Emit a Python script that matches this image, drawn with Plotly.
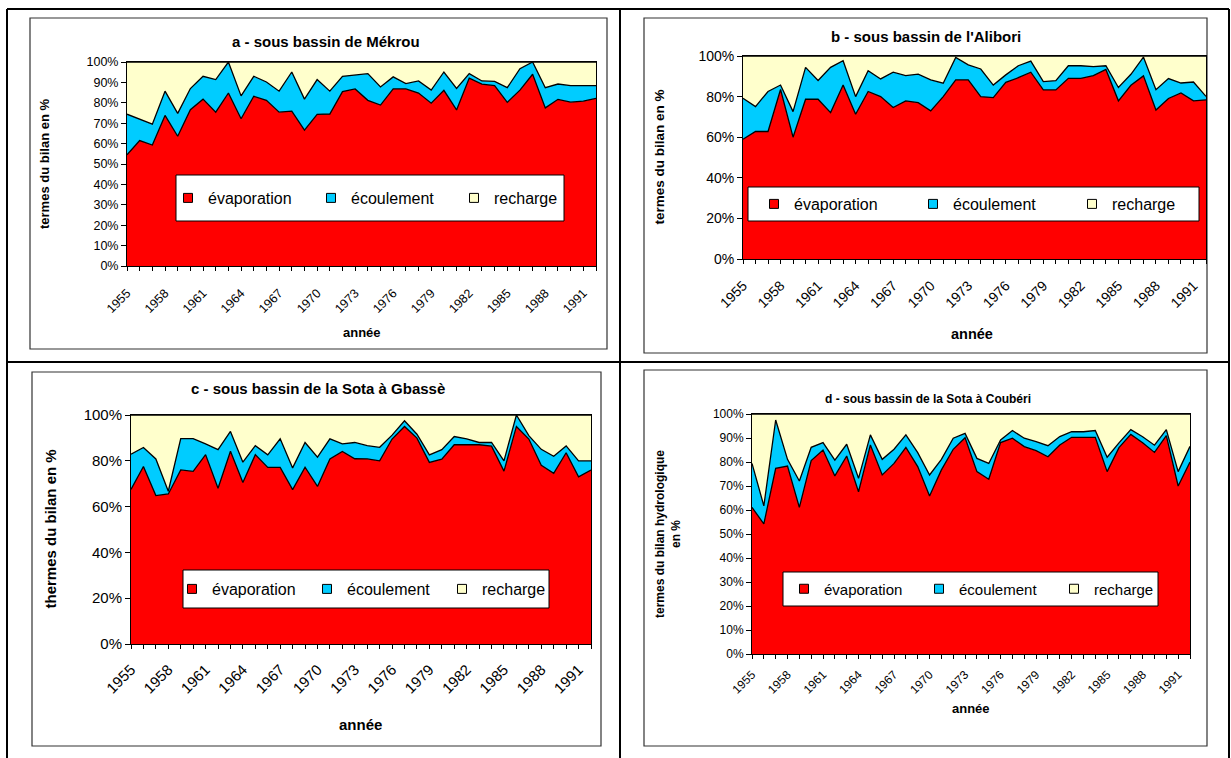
import plotly.graph_objects as go

W, H = 1231, 758
FONT = "Liberation Sans, Arial, sans-serif"

years = list(range(1955, 1993))
year_labels = [str(y) if (y - 1955) % 3 == 0 else "" for y in years]

# a - Mékrou (percent of the annual balance)
evap_a = [54.5, 61.5, 59.3, 73.8, 63.6, 76.6, 81.8, 75.4, 84.8, 72.2, 83.2, 81.2, 75.4, 75.9, 66.6, 74.3, 74.5, 85.5, 86.8,
          81.2, 78.9, 86.8, 86.8, 84.8, 79.8, 86.1, 76.5, 92.1, 89.2, 88.4, 80.2, 86.2, 94.0, 77.5, 81.7, 80.3, 80.8, 82.2]
ecoul_a = [19.9, 10.3, 10.2, 11.9, 11.2, 10.4, 11.2, 16.0, 15.2, 11.2, 9.8, 9.0, 10.3, 19.2, 15.2, 17.1, 11.2, 7.5, 7.0,
           13.1, 8.9, 5.9, 2.6, 5.9, 6.4, 9.0, 10.5, 2.2, 1.5, 2.1, 7.2, 10.5, 6.0, 9.9, 7.5, 8.1, 7.6, 6.2]
rech_a = [25.6, 28.2, 30.5, 14.3, 25.2, 13.0, 7.0, 8.6, 0.0, 16.6, 7.0, 9.8, 14.3, 4.9, 18.2, 8.6, 14.3, 7.0, 6.2,
          5.7, 12.2, 7.3, 10.6, 9.3, 13.8, 4.9, 13.0, 5.7, 9.3, 9.5, 12.6, 3.3, 0.0, 12.6, 10.8, 11.6, 11.6, 11.6]

# b - Alibori
evap_b = [59.0, 62.8, 62.8, 83.5, 60.0, 78.7, 78.7, 72.1, 85.7, 71.3, 82.5, 80.0, 74.6, 77.9, 77.0, 73.0, 80.0, 88.2, 88.2,
          80.0, 79.5, 87.0, 89.3, 92.0, 83.3, 83.3, 89.0, 89.0, 90.3, 93.4, 77.9, 85.6, 90.2, 73.4, 79.1, 81.8, 77.9, 78.4]
ecoul_b = [20.2, 12.3, 19.7, 2.2, 12.6, 15.7, 9.2, 22.3, 12.0, 8.7, 10.3, 8.7, 17.4, 12.4, 14.1, 15.2, 6.6, 11.1, 7.4,
           13.6, 6.2, 3.7, 5.9, 5.5, 4.1, 4.6, 6.2, 6.2, 4.5, 1.8, 6.6, 5.4, 9.3, 10.0, 9.8, 4.9, 9.3, 1.7]
rech_b = [20.8, 24.9, 17.5, 14.3, 27.4, 5.6, 12.1, 5.6, 2.3, 20.0, 7.2, 11.3, 8.0, 9.7, 8.9, 11.8, 13.4, 0.7, 4.4,
          6.4, 14.3, 9.3, 4.8, 2.5, 12.6, 12.1, 4.8, 4.8, 5.2, 4.8, 15.5, 9.0, 0.5, 16.6, 11.1, 13.3, 12.8, 19.9]

# c - Sota à Gbassè
evap_c = [67.5, 77.5, 64.8, 65.5, 76.0, 75.4, 82.7, 68.0, 84.2, 70.5, 82.7, 77.1, 77.1, 67.4, 77.2, 68.8, 80.8, 84.1, 80.9,
          80.8, 80.0, 89.5, 95.0, 89.9, 79.3, 80.7, 87.0, 87.0, 87.0, 86.4, 75.5, 95.0, 89.5, 78.0, 74.5, 83.5, 73.0, 76.0]
ecoul_c = [15.4, 8.3, 16.0, 1.2, 13.7, 14.3, 4.7, 16.9, 8.6, 8.9, 3.9, 5.5, 12.5, 9.5, 10.8, 12.8, 8.8, 3.3, 7.1,
           5.8, 5.9, 1.7, 2.5, 1.7, 3.3, 4.2, 3.6, 2.6, 1.0, 1.6, 4.5, 5.0, 1.5, 7.0, 7.5, 3.0, 7.0, 4.0]
rech_c = [17.1, 14.2, 19.2, 33.3, 10.3, 10.3, 12.6, 15.1, 7.2, 20.6, 13.4, 17.4, 10.4, 23.1, 12.0, 18.4, 10.4, 12.6, 12.0,
          13.4, 14.1, 8.8, 2.5, 8.4, 17.4, 15.1, 9.4, 10.4, 12.0, 12.0, 20.0, 0.0, 9.0, 15.0, 18.0, 13.5, 20.0, 20.0]

# d - Sota à Coubéri
evap_d = [61.1, 54.2, 77.4, 78.3, 61.1, 80.6, 85.0, 74.2, 82.5, 67.6, 87.1, 74.6, 79.4, 86.1, 78.1, 65.8, 76.7, 85.3, 90.1,
          76.0, 72.8, 88.1, 89.9, 86.4, 84.7, 82.2, 87.1, 90.3, 90.3, 90.3, 76.0, 86.0, 91.5, 88.0, 84.0, 91.0, 70.0, 80.0]
ecoul_d = [18.3, 7.5, 20.1, 2.8, 11.0, 5.5, 3.1, 6.6, 4.9, 5.6, 4.2, 6.5, 5.9, 5.2, 5.8, 8.8, 4.4, 4.6, 1.8,
           5.5, 6.6, 1.1, 3.2, 3.5, 3.8, 4.6, 3.5, 2.3, 2.3, 2.8, 6.0, 2.0, 2.0, 2.5, 3.0, 2.5, 6.0, 6.5]
rech_d = [20.6, 38.3, 2.5, 18.9, 27.9, 13.9, 11.9, 19.2, 12.6, 26.8, 8.7, 18.9, 14.7, 8.7, 16.1, 25.4, 18.9, 10.1, 8.1,
          18.5, 20.6, 10.8, 6.9, 10.1, 11.5, 13.2, 9.4, 7.4, 7.4, 6.9, 18.0, 12.0, 6.5, 9.5, 13.0, 6.5, 24.0, 13.5]

series_names = ["évaporation", "écoulement", "recharge"]
series_colors = ["#FF0000", "#00CCFF", "#FFFFCC"]


def fx(px):
    return px / W


def fy(py):
    return 1 - py / H


panels = [
    dict(key="", data=(evap_a, ecoul_a, rech_a), plot=(127, 596, 62, 266), box=(30, 607, 18, 349),
         title="a - sous bassin de Mékrou", title_xy=(326, 41), title_size=15,
         ytitle="termes du bilan en %", ytitle_x=45, ytitle_size=13, dtick=10, tick_size=12.5, standoff=10,
         xtitle_xy=(362, 333), xtitle_size=13, legend_box=(176, 564, 175, 221), legend_size=16,
         legend_x=168, entry=98),
    dict(key="2", data=(evap_b, ecoul_b, rech_b), plot=(743, 1206, 56, 259), box=(644, 1207, 18, 353),
         title="b - sous bassin de l'Alibori", title_xy=(926, 36), title_size=15,
         ytitle="termes du bilan en %", ytitle_x=659, ytitle_size=13.5, dtick=20, tick_size=14, standoff=8,
         xtitle_xy=(972, 334), xtitle_size=14.5, legend_box=(748, 1199, 187, 221), legend_size=16,
         legend_x=754, entry=114),
    dict(key="3", data=(evap_c, ecoul_c, rech_c), plot=(131, 591, 415, 644), box=(32, 601, 372, 746),
         title="c - sous bassin de la Sota à Gbassè", title_xy=(318, 388), title_size=15,
         ytitle="thermes du bilan en %", ytitle_x=50, ytitle_size=15, dtick=20, tick_size=15, standoff=6,
         xtitle_xy=(360, 724), xtitle_size=15, legend_box=(183, 549, 570, 608), legend_size=16,
         legend_x=172, entry=90),
    dict(key="4", data=(evap_d, ecoul_d, rech_d), plot=(752, 1190, 414, 654), box=(644, 1207, 370, 746),
         title="d - sous bassin de la Sota à Coubéri", title_xy=(928, 399), title_size=12,
         ytitle="termes du bilan hydrologique<br>en %", ytitle_x=668, ytitle_size=12, dtick=10, tick_size=12,
         standoff=4, xtitle_xy=(971, 708), xtitle_size=13, legend_box=(783, 1158, 572, 606), legend_size=15,
         legend_x=784, entry=90),
]

fig = go.Figure()
shapes = []
annotations = []
layout = {}

for p in panels:
    k = p["key"]
    xa, ya = "x" + k, "y" + k
    leg = "legend" + k
    l, r, t, b = p["plot"]
    for vals, name, col in zip(p["data"], series_names, series_colors):
        fig.add_trace(go.Scatter(
            x=years, y=vals, name=name, mode="lines", stackgroup="s" + (k or "1"),
            line=dict(color="black", width=1.3), fillcolor=col,
            xaxis=xa, yaxis=ya, showlegend=False, hoverinfo="skip"))
    # legend entries drawn as square swatches
    for name, col in zip(series_names, series_colors):
        fig.add_trace(go.Scatter(
            x=[None], y=[None], name=name, mode="markers",
            marker=dict(symbol="square", size=9, color=col, line=dict(color="black", width=1)),
            xaxis=xa, yaxis=ya, legend=leg, showlegend=True))

    axis_font = dict(family=FONT, size=p["tick_size"], color="black")
    layout["xaxis" + k] = dict(
        domain=[fx(l), fx(r)], anchor=ya, range=[1955, 1992],
        tickmode="array", tickvals=years, ticktext=year_labels, tickangle=-45,
        ticks="outside", ticklen=4, tickcolor="black", tickfont=axis_font,
        ticklabelstandoff=p["standoff"],
        showline=True, linecolor="black", linewidth=1, mirror=True,
        showgrid=False, zeroline=False, automargin=False, fixedrange=True)
    layout["yaxis" + k] = dict(
        domain=[fy(b), fy(t)], anchor=xa, range=[0, 100],
        tickmode="linear", tick0=0, dtick=p["dtick"], ticksuffix="%",
        ticks="outside", ticklen=5, tickcolor="black", tickfont=axis_font,
        showline=True, linecolor="black", linewidth=1, mirror=True,
        showgrid=False, zeroline=False, automargin=False, fixedrange=True)

    lb_l, lb_r, lb_t, lb_b = p["legend_box"]
    layout[leg] = dict(
        x=fx(p["legend_x"]), y=fy((lb_t + lb_b) / 2), xanchor="left", yanchor="middle",
        orientation="h", traceorder="normal", bgcolor="rgba(0,0,0,0)", borderwidth=0,
        font=dict(family=FONT, size=p["legend_size"], color="black"),
        entrywidth=p["entry"], entrywidthmode="pixels", itemclick=False, itemdoubleclick=False)

    # chart frame and legend frame
    bl, br, bt, bb = p["box"]
    shapes.append(dict(type="rect", xref="paper", yref="paper", x0=fx(bl), x1=fx(br), y0=fy(bb), y1=fy(bt),
                       line=dict(color="#333333", width=1.2), fillcolor="rgba(0,0,0,0)", layer="below"))
    shapes.append(dict(type="rect", xref="paper", yref="paper", x0=fx(lb_l), x1=fx(lb_r), y0=fy(lb_b), y1=fy(lb_t),
                       line=dict(color="black", width=1), fillcolor="white", layer="above"))

    tx, ty = p["title_xy"]
    annotations.append(dict(text="<b>" + p["title"] + "</b>", x=fx(tx), y=fy(ty), xref="paper", yref="paper",
                            showarrow=False, xanchor="center", yanchor="middle",
                            font=dict(family=FONT, size=p["title_size"], color="black")))
    annotations.append(dict(text="<b>" + p["ytitle"] + "</b>", x=fx(p["ytitle_x"]), y=fy((t + b) / 2),
                            xref="paper", yref="paper", showarrow=False, textangle=-90,
                            xanchor="center", yanchor="middle",
                            font=dict(family=FONT, size=p["ytitle_size"], color="black")))
    ax_, ay_ = p["xtitle_xy"]
    annotations.append(dict(text="<b>année</b>", x=fx(ax_), y=fy(ay_), xref="paper", yref="paper",
                            showarrow=False, xanchor="center", yanchor="middle",
                            font=dict(family=FONT, size=p["xtitle_size"], color="black")))

# table rules around the four charts
table_lines = [(7, 9, 1229, 9), (7, 9, 7, 758), (620, 9, 620, 758), (1229, 9, 1229, 758), (7, 362, 1229, 362)]
for x0, y0, x1, y1 in table_lines:
    shapes.append(dict(type="line", xref="paper", yref="paper", x0=fx(x0), y0=fy(y0), x1=fx(x1), y1=fy(y1),
                       line=dict(color="black", width=2), layer="below"))

fig.update_layout(
    width=W, height=H, margin=dict(l=0, r=0, t=0, b=0), autosize=False,
    template="none", paper_bgcolor="white", plot_bgcolor="white",
    showlegend=True, shapes=shapes, annotations=annotations,
    font=dict(family=FONT, color="black"), **layout)

fig.write_html("out.html")
